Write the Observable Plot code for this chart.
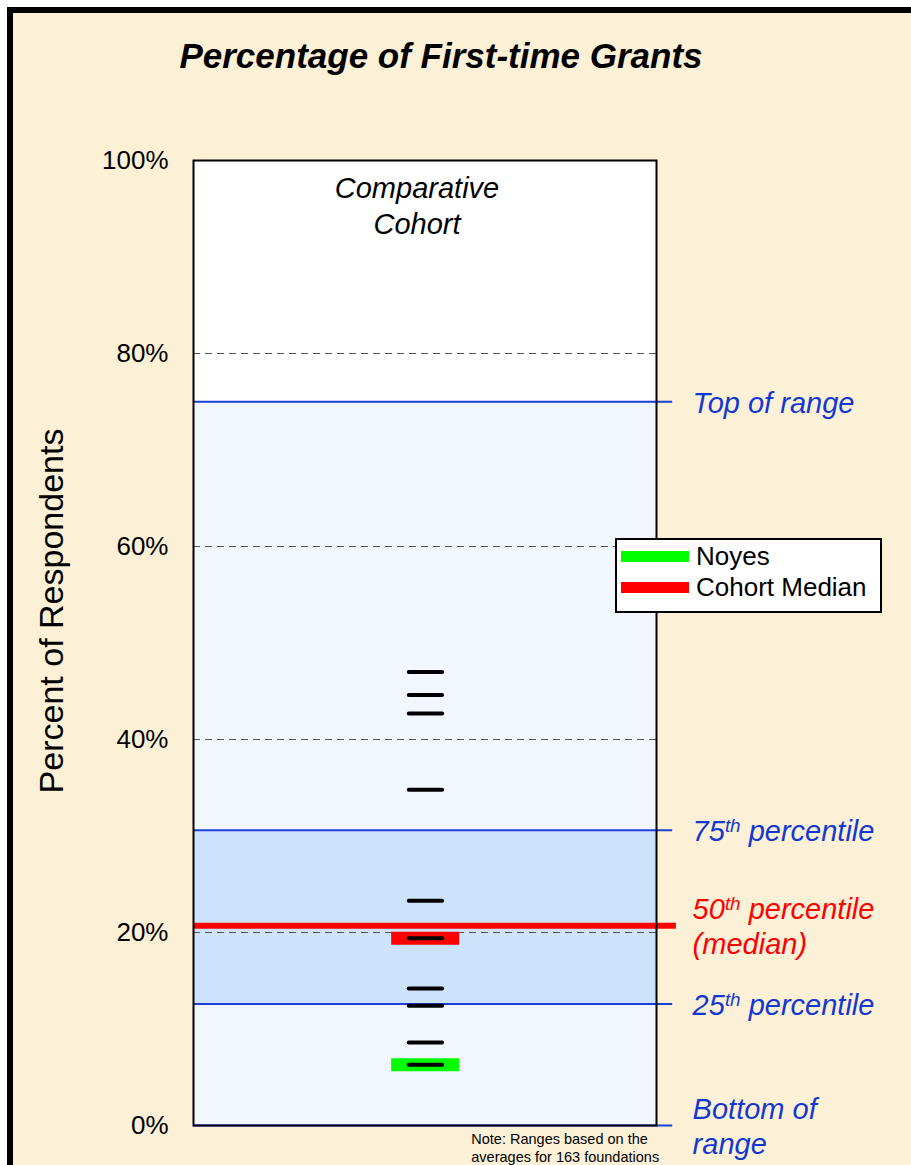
<!DOCTYPE html>
<html><head><meta charset="utf-8">
<script src="https://cdn.jsdelivr.net/npm/d3@7"></script>
<script src="https://cdn.jsdelivr.net/npm/@observablehq/plot@0.6"></script>
<style>
html,body{margin:0;padding:0;background:#fff;}
#page{position:relative;width:911px;height:1165px;overflow:hidden;font-family:"Liberation Sans",Arial,sans-serif;}
#bg{position:absolute;left:7px;top:7px;width:940px;height:1200px;background:#FCF1D7;border:6px solid #000;}
#title{position:absolute;left:0;top:36px;width:882px;text-align:center;font-weight:bold;font-style:italic;font-size:35px;line-height:40px;color:#000;}
#chart{position:absolute;left:0;top:100px;}
#legend{position:absolute;left:615px;top:538px;width:263px;height:70px;background:#fff;border:2px solid #000;padding-top:1px;box-sizing:content-box;}
#legend .row{display:flex;align-items:center;height:31px;}
#legend .sw{width:68px;height:11px;margin-left:4px;margin-right:7px;}
#legend .lb{font-size:26px;color:#000;}
</style>
</head><body>
<div id="page">
  <div id="bg"></div>
  <div id="title">Percentage of First-time Grants</div>
  <div id="chart"></div>
  <div id="legend"></div>
</div>
<script>
// ---- data ----
const yTicks = [0, 20, 40, 60, 80, 100];
const gridTicks = [20, 40, 60, 80];
const rangeBottom = 0;
const p25 = 12.6;
const overallMedian = 20.7;
const p75 = 30.6;
const rangeTop = 75;
const cohortValues = [47.0, 44.6, 42.7, 34.8, 23.3, 19.4, 14.2, 12.4, 8.6, 6.3];
const noyesValue = 6.3;
const cohortMedianValue = 19.4;
const legendNames = ["Noyes", "Cohort Median"];
const legendColors = ["#00FF00", "#FF0000"];
const rangeLabels = ["Top of range", "75th percentile", "50th percentile\n(median)", "25th percentile", "Bottom of\nrange"];
const rangeValues = [rangeTop, p75, overallMedian, p25, rangeBottom];
const rangeLabelColors = ["#1338D2", "#1338D2", "#FF0000", "#1338D2", "#1338D2"];
const bandLo = [rangeBottom, p25, p75, rangeTop];
const bandHi = [p25, p75, rangeTop, 100];
const bandFill = ["#F2F7FE", "#CCE3FB", "#F2F7FE", "#FFFFFF"];
const yLabel = "Percent of Respondents";
const cohortLabel = "Comparative\nCohort";
const noteText = "Note: Ranges based on the\naverages for 163 foundations";

// ---- build ----
const bands = bandLo.map((lo, i) => ({lo, hi: bandHi[i], fill: bandFill[i]}));
const labels = rangeLabels.map((t, i) => ({text: t, y: rangeValues[i], fill: rangeLabelColors[i]}));
const blue = "#1E3FD6";

const chart = Plot.plot({
  width: 911,
  height: 1065,
  marginLeft: 193,
  marginRight: 255,
  marginTop: 60,
  marginBottom: 40,
  x: {domain: [0, 100], axis: null},
  y: {domain: [0, 100], axis: null},
  color: {type: "identity"},
  style: {background: "transparent", fontFamily: "'Liberation Sans', Arial, sans-serif", fontSize: "26px", color: "#000", overflow: "visible"},
  marks: [
    Plot.rect(bands, {y1: "lo", y2: "hi", fill: "fill"}),
    Plot.ruleY(gridTicks, {stroke: "#555", strokeDasharray: "7,5", strokeWidth: 1}),
    Plot.ruleY([rangeBottom, p25, p75, rangeTop], {x1: 0, x2: 103.5, stroke: blue, strokeWidth: 2}),
    Plot.ruleY([overallMedian], {x1: 0, x2: 104.3, stroke: "#FF0000", strokeWidth: 6}),
    Plot.ruleY([noyesValue], {x1: 42.8, x2: 57.5, stroke: legendColors[0], strokeWidth: 13}),
    Plot.ruleY([cohortMedianValue], {x1: 42.8, x2: 57.5, stroke: legendColors[1], strokeWidth: 13}),
    Plot.ruleY(cohortValues, {x1: 46.6, x2: 53.8, stroke: "#000", strokeWidth: 4, strokeLinecap: "round"}),
    Plot.frame({stroke: "#000", strokeWidth: 2}),
    Plot.axisY(yTicks, {tickSize: 0, tickPadding: 25, tickFormat: d => d + "%", fontSize: 26, label: null}),
    Plot.text(labels, {x: 107.8, y: "y", text: "text", fill: "fill", textAnchor: "start", fontSize: 29, fontStyle: "italic", lineHeight: 1.2}),
    Plot.text([cohortLabel], {frameAnchor: "top", dx: -8, dy: 12, lineAnchor: "top", fontSize: 29, fontStyle: "italic", lineHeight: 1.24, fill: "#000"}),
    Plot.text([yLabel], {frameAnchor: "left", dx: -141, dy: -32, rotate: -90, textAnchor: "middle", fontSize: 34, fill: "#000"}),
    Plot.text([noteText], {x: 60, y: rangeBottom, dy: 6, lineAnchor: "top", textAnchor: "start", fontSize: 14.5, lineHeight: 1.24, fill: "#000"})
  ]
});

// superscripts for "th"
d3.select(chart).selectAll("text, tspan").each(function () {
  if (this.childNodes.length !== 1 || this.firstChild.nodeType !== 3) return;
  const m = this.textContent.match(/^(\d+)(th)(.*)$/);
  if (!m) return;
  const el = d3.select(this);
  el.text(null);
  el.append("tspan").text(m[1]);
  el.append("tspan").attr("baseline-shift", "45%").attr("font-size", "0.65em").text(m[2]);
  el.append("tspan").text(m[3]);
});

document.getElementById("chart").appendChild(chart);

// legend
const leg = d3.select("#legend");
legendNames.forEach((n, i) => {
  const row = leg.append("div").attr("class", "row");
  row.append("div").attr("class", "sw").style("background", legendColors[i]);
  row.append("div").attr("class", "lb").text(n);
});
</script>
</body></html>
